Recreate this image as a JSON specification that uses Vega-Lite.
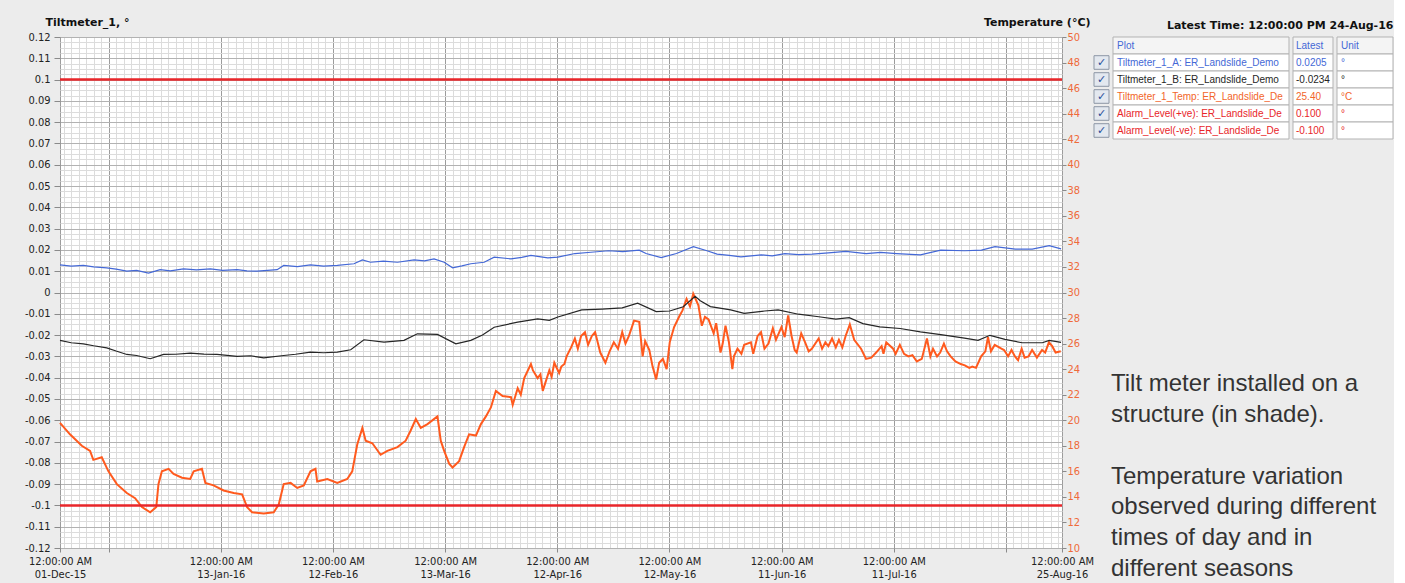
{
  "$schema": "https://vega.github.io/schema/vega-lite/v6.json",
  "background": "#ececec",
  "padding": {"left": 23, "top": 15, "right": 0, "bottom": 0},
  "config": {
    "view": {"stroke": null},
    "font": "Liberation Sans",
    "axis": {"labelFont": "DejaVu Sans Condensed, Liberation Sans, sans-serif", "labelFontSize": 11, "labelColor": "#222222", "titleFont": "DejaVu Sans", "titleFontSize": 11, "titleFontWeight": "bold", "titleColor": "#111111"}
  },
  "datasets": {
    "alarm": [
      {"series": "Alarm_Level(+ve)", "t": "2015-12-01T00:00", "value": 0.1},
      {"series": "Alarm_Level(+ve)", "t": "2016-08-25T00:00", "value": 0.1},
      {"series": "Alarm_Level(-ve)", "t": "2015-12-01T00:00", "value": -0.1},
      {"series": "Alarm_Level(-ve)", "t": "2016-08-25T00:00", "value": -0.1}
    ],
    "temp": [
      {"t": "2015-12-01T00:00", "temp": 19.8}, {"t": "2015-12-03T16:00", "temp": 18.9}, {"t": "2015-12-06T20:00", "temp": 18.0}, {"t": "2015-12-09T01:00", "temp": 17.6}, {"t": "2015-12-09T22:00", "temp": 16.9}, {"t": "2015-12-12T04:00", "temp": 17.1}, {"t": "2015-12-13T23:00", "temp": 16.0}, {"t": "2015-12-16T05:00", "temp": 15.0}, {"t": "2015-12-18T21:00", "temp": 14.3}, {"t": "2015-12-21T02:00", "temp": 13.9}, {"t": "2015-12-22T22:00", "temp": 13.2}, {"t": "2015-12-25T03:00", "temp": 12.8}, {"t": "2015-12-26T18:00", "temp": 13.2}, {"t": "2015-12-27T08:00", "temp": 15.0}, {"t": "2015-12-28T06:00", "temp": 16.0}, {"t": "2015-12-30T01:00", "temp": 16.2}, {"t": "2015-12-31T09:00", "temp": 15.8},
      {"t": "2016-01-02T15:00", "temp": 15.5}, {"t": "2016-01-04T20:00", "temp": 15.4}, {"t": "2016-01-05T18:00", "temp": 16.0}, {"t": "2016-01-07T23:00", "temp": 16.2}, {"t": "2016-01-08T21:00", "temp": 15.1}, {"t": "2016-01-11T02:00", "temp": 14.9}, {"t": "2016-01-13T18:00", "temp": 14.5}, {"t": "2016-01-16T11:00", "temp": 14.3}, {"t": "2016-01-18T17:00", "temp": 14.2}, {"t": "2016-01-20T01:00", "temp": 13.2}, {"t": "2016-01-21T09:00", "temp": 12.8}, {"t": "2016-01-24T12:00", "temp": 12.7}, {"t": "2016-01-27T04:00", "temp": 12.8}, {"t": "2016-01-28T12:00", "temp": 13.4}, {"t": "2016-01-29T20:00", "temp": 15.0}, {"t": "2016-01-31T16:00", "temp": 15.1},
      {"t": "2016-02-02T11:00", "temp": 14.7}, {"t": "2016-02-04T05:00", "temp": 14.9}, {"t": "2016-02-06T00:00", "temp": 16.0}, {"t": "2016-02-07T08:00", "temp": 16.2}, {"t": "2016-02-07T19:00", "temp": 15.2}, {"t": "2016-02-10T12:00", "temp": 15.4}, {"t": "2016-02-13T04:00", "temp": 15.1}, {"t": "2016-02-15T20:00", "temp": 15.4}, {"t": "2016-02-17T04:00", "temp": 16.0}, {"t": "2016-02-18T12:00", "temp": 18.1}, {"t": "2016-02-19T21:00", "temp": 19.4}, {"t": "2016-02-20T18:00", "temp": 18.4}, {"t": "2016-02-22T13:00", "temp": 18.2}, {"t": "2016-02-24T18:00", "temp": 17.3}, {"t": "2016-02-26T13:00", "temp": 17.6}, {"t": "2016-02-29T06:00", "temp": 17.9},
      {"t": "2016-03-02T11:00", "temp": 18.4}, {"t": "2016-03-03T19:00", "temp": 19.2}, {"t": "2016-03-05T04:00", "temp": 20.1}, {"t": "2016-03-06T12:00", "temp": 19.4}, {"t": "2016-03-08T07:00", "temp": 19.7}, {"t": "2016-03-10T23:00", "temp": 20.3}, {"t": "2016-03-11T20:00", "temp": 18.4}, {"t": "2016-03-12T18:00", "temp": 17.6}, {"t": "2016-03-14T02:00", "temp": 16.6}, {"t": "2016-03-15T00:00", "temp": 16.3}, {"t": "2016-03-16T18:00", "temp": 16.8}, {"t": "2016-03-18T02:00", "temp": 17.9}, {"t": "2016-03-19T10:00", "temp": 18.9}, {"t": "2016-03-21T06:00", "temp": 18.8}, {"t": "2016-03-22T14:00", "temp": 19.7}, {"t": "2016-03-23T22:00", "temp": 20.3}, {"t": "2016-03-25T06:00", "temp": 21.0}, {"t": "2016-03-26T14:00", "temp": 22.3}, {"t": "2016-03-28T09:00", "temp": 21.9}, {"t": "2016-03-30T15:00", "temp": 21.8}, {"t": "2016-03-31T02:00", "temp": 21.2},
      {"t": "2016-04-01T10:00", "temp": 22.5}, {"t": "2016-04-02T06:00", "temp": 22.0}, {"t": "2016-04-03T04:00", "temp": 23.3}, {"t": "2016-04-04T23:00", "temp": 24.4}, {"t": "2016-04-05T12:00", "temp": 23.9}, {"t": "2016-04-06T18:00", "temp": 23.3}, {"t": "2016-04-07T12:00", "temp": 23.6}, {"t": "2016-04-08T03:00", "temp": 22.3}, {"t": "2016-04-09T21:00", "temp": 23.9}, {"t": "2016-04-10T12:00", "temp": 23.4}, {"t": "2016-04-11T05:00", "temp": 24.5}, {"t": "2016-04-12T12:00", "temp": 23.7}, {"t": "2016-04-13T02:00", "temp": 24.2}, {"t": "2016-04-13T22:00", "temp": 24.4}, {"t": "2016-04-14T12:00", "temp": 25.0}, {"t": "2016-04-15T17:00", "temp": 25.7}, {"t": "2016-04-16T17:00", "temp": 26.4}, {"t": "2016-04-17T12:00", "temp": 25.6}, {"t": "2016-04-18T09:00", "temp": 26.6}, {"t": "2016-04-19T10:00", "temp": 26.9}, {"t": "2016-04-20T06:00", "temp": 25.9}, {"t": "2016-04-21T06:00", "temp": 26.6}, {"t": "2016-04-22T03:00", "temp": 26.9}, {"t": "2016-04-23T12:00", "temp": 25.3}, {"t": "2016-04-24T21:00", "temp": 24.5}, {"t": "2016-04-26T00:00", "temp": 25.4}, {"t": "2016-04-27T03:00", "temp": 26.1}, {"t": "2016-04-28T06:00", "temp": 25.6}, {"t": "2016-04-29T09:00", "temp": 26.9}, {"t": "2016-04-30T06:00", "temp": 26.0},
      {"t": "2016-05-01T04:00", "temp": 26.6}, {"t": "2016-05-02T13:00", "temp": 27.8}, {"t": "2016-05-03T22:00", "temp": 27.7}, {"t": "2016-05-04T20:00", "temp": 25.0}, {"t": "2016-05-05T12:00", "temp": 26.2}, {"t": "2016-05-06T15:00", "temp": 25.5}, {"t": "2016-05-07T12:00", "temp": 24.2}, {"t": "2016-05-08T11:00", "temp": 23.2}, {"t": "2016-05-09T06:00", "temp": 24.5}, {"t": "2016-05-10T06:00", "temp": 24.8}, {"t": "2016-05-11T06:00", "temp": 24.0}, {"t": "2016-05-12T02:00", "temp": 26.1}, {"t": "2016-05-13T06:00", "temp": 27.3}, {"t": "2016-05-14T18:00", "temp": 28.2}, {"t": "2016-05-15T12:00", "temp": 28.6}, {"t": "2016-05-16T14:00", "temp": 29.5}, {"t": "2016-05-17T12:00", "temp": 28.9}, {"t": "2016-05-18T09:00", "temp": 29.9}, {"t": "2016-05-19T18:00", "temp": 29.0}, {"t": "2016-05-20T16:00", "temp": 27.4}, {"t": "2016-05-21T12:00", "temp": 28.1}, {"t": "2016-05-22T11:00", "temp": 27.9}, {"t": "2016-05-23T20:00", "temp": 26.8}, {"t": "2016-05-24T12:00", "temp": 27.6}, {"t": "2016-05-25T16:00", "temp": 25.3}, {"t": "2016-05-26T06:00", "temp": 26.0}, {"t": "2016-05-27T00:00", "temp": 27.4}, {"t": "2016-05-27T22:00", "temp": 26.1}, {"t": "2016-05-28T20:00", "temp": 24.0}, {"t": "2016-05-29T06:00", "temp": 25.0}, {"t": "2016-05-30T05:00", "temp": 25.6}, {"t": "2016-05-31T06:00", "temp": 25.2},
      {"t": "2016-06-01T00:00", "temp": 25.9}, {"t": "2016-06-02T19:00", "temp": 26.1}, {"t": "2016-06-03T10:00", "temp": 25.2}, {"t": "2016-06-04T14:00", "temp": 26.6}, {"t": "2016-06-05T12:00", "temp": 26.9}, {"t": "2016-06-06T10:00", "temp": 25.6}, {"t": "2016-06-07T12:00", "temp": 26.0}, {"t": "2016-06-08T16:00", "temp": 27.2}, {"t": "2016-06-09T12:00", "temp": 26.3}, {"t": "2016-06-10T23:00", "temp": 27.3}, {"t": "2016-06-11T20:00", "temp": 26.5}, {"t": "2016-06-12T18:00", "temp": 28.2}, {"t": "2016-06-13T16:00", "temp": 26.6}, {"t": "2016-06-14T12:00", "temp": 25.5}, {"t": "2016-06-15T01:00", "temp": 25.3}, {"t": "2016-06-16T06:00", "temp": 26.8}, {"t": "2016-06-17T07:00", "temp": 26.1}, {"t": "2016-06-18T06:00", "temp": 25.4}, {"t": "2016-06-19T02:00", "temp": 25.6}, {"t": "2016-06-20T22:00", "temp": 26.4}, {"t": "2016-06-21T20:00", "temp": 25.6}, {"t": "2016-06-22T17:00", "temp": 26.1}, {"t": "2016-06-23T12:00", "temp": 25.8}, {"t": "2016-06-24T12:00", "temp": 26.4}, {"t": "2016-06-25T12:00", "temp": 25.7}, {"t": "2016-06-26T08:00", "temp": 26.3}, {"t": "2016-06-27T06:00", "temp": 25.7}, {"t": "2016-06-28T03:00", "temp": 26.6}, {"t": "2016-06-29T06:00", "temp": 27.5}, {"t": "2016-06-30T10:00", "temp": 26.3},
      {"t": "2016-07-02T06:00", "temp": 25.6}, {"t": "2016-07-03T14:00", "temp": 24.8}, {"t": "2016-07-05T00:00", "temp": 24.9}, {"t": "2016-07-06T07:00", "temp": 25.3}, {"t": "2016-07-07T18:00", "temp": 25.8}, {"t": "2016-07-08T06:00", "temp": 25.2}, {"t": "2016-07-09T00:00", "temp": 26.1}, {"t": "2016-07-10T20:00", "temp": 25.6}, {"t": "2016-07-11T12:00", "temp": 25.2}, {"t": "2016-07-12T15:00", "temp": 25.9}, {"t": "2016-07-13T18:00", "temp": 25.2}, {"t": "2016-07-14T22:00", "temp": 25.0}, {"t": "2016-07-16T00:00", "temp": 25.1}, {"t": "2016-07-17T04:00", "temp": 24.6}, {"t": "2016-07-18T12:00", "temp": 24.8}, {"t": "2016-07-19T21:00", "temp": 26.4}, {"t": "2016-07-20T19:00", "temp": 25.0}, {"t": "2016-07-21T12:00", "temp": 25.6}, {"t": "2016-07-22T14:00", "temp": 25.0}, {"t": "2016-07-23T10:00", "temp": 25.3}, {"t": "2016-07-24T10:00", "temp": 26.0}, {"t": "2016-07-25T06:00", "temp": 25.4}, {"t": "2016-07-26T05:00", "temp": 25.0}, {"t": "2016-07-27T12:00", "temp": 24.6}, {"t": "2016-07-28T22:00", "temp": 24.4}, {"t": "2016-07-30T00:00", "temp": 24.3}, {"t": "2016-07-31T05:00", "temp": 24.1},
      {"t": "2016-08-01T00:00", "temp": 24.2}, {"t": "2016-08-02T00:00", "temp": 24.1}, {"t": "2016-08-03T09:00", "temp": 25.0}, {"t": "2016-08-04T12:00", "temp": 25.4}, {"t": "2016-08-05T05:00", "temp": 26.5}, {"t": "2016-08-06T00:00", "temp": 25.4}, {"t": "2016-08-07T00:00", "temp": 25.9}, {"t": "2016-08-08T19:00", "temp": 25.6}, {"t": "2016-08-09T12:00", "temp": 25.5}, {"t": "2016-08-10T14:00", "temp": 25.0}, {"t": "2016-08-11T12:00", "temp": 25.5}, {"t": "2016-08-12T10:00", "temp": 25.0}, {"t": "2016-08-13T06:00", "temp": 24.7}, {"t": "2016-08-14T05:00", "temp": 25.6}, {"t": "2016-08-15T00:00", "temp": 24.9}, {"t": "2016-08-16T01:00", "temp": 25.0}, {"t": "2016-08-17T00:00", "temp": 25.5}, {"t": "2016-08-18T07:00", "temp": 24.9}, {"t": "2016-08-19T16:00", "temp": 25.5}, {"t": "2016-08-20T12:00", "temp": 25.3}, {"t": "2016-08-21T12:00", "temp": 26.1}, {"t": "2016-08-22T09:00", "temp": 25.8}, {"t": "2016-08-23T07:00", "temp": 25.3}, {"t": "2016-08-24T16:00", "temp": 25.4}
    ],
    "tilt": [
      {"series": "Tiltmeter_1_A", "t": "2015-12-01T00:00", "value": 0.0130}, {"series": "Tiltmeter_1_A", "t": "2015-12-04T00:00", "value": 0.0124}, {"series": "Tiltmeter_1_A", "t": "2015-12-07T06:00", "value": 0.0127}, {"series": "Tiltmeter_1_A", "t": "2015-12-10T00:00", "value": 0.0120}, {"series": "Tiltmeter_1_A", "t": "2015-12-13T12:00", "value": 0.0116}, {"series": "Tiltmeter_1_A", "t": "2015-12-16T00:00", "value": 0.0110}, {"series": "Tiltmeter_1_A", "t": "2015-12-18T21:00", "value": 0.0100}, {"series": "Tiltmeter_1_A", "t": "2015-12-21T12:00", "value": 0.0104}, {"series": "Tiltmeter_1_A", "t": "2015-12-24T16:00", "value": 0.0091}, {"series": "Tiltmeter_1_A", "t": "2015-12-27T19:00", "value": 0.0107}, {"series": "Tiltmeter_1_A", "t": "2015-12-30T12:00", "value": 0.0102},
      {"series": "Tiltmeter_1_A", "t": "2016-01-03T01:00", "value": 0.0111}, {"series": "Tiltmeter_1_A", "t": "2016-01-06T12:00", "value": 0.0106}, {"series": "Tiltmeter_1_A", "t": "2016-01-10T05:00", "value": 0.0111}, {"series": "Tiltmeter_1_A", "t": "2016-01-13T12:00", "value": 0.0104}, {"series": "Tiltmeter_1_A", "t": "2016-01-17T09:00", "value": 0.0107}, {"series": "Tiltmeter_1_A", "t": "2016-01-20T00:00", "value": 0.0102}, {"series": "Tiltmeter_1_A", "t": "2016-01-22T17:00", "value": 0.0100}, {"series": "Tiltmeter_1_A", "t": "2016-01-25T12:00", "value": 0.0104}, {"series": "Tiltmeter_1_A", "t": "2016-01-28T02:00", "value": 0.0107}, {"series": "Tiltmeter_1_A", "t": "2016-01-29T20:00", "value": 0.0127},
      {"series": "Tiltmeter_1_A", "t": "2016-02-02T12:00", "value": 0.0122}, {"series": "Tiltmeter_1_A", "t": "2016-02-06T00:00", "value": 0.0130}, {"series": "Tiltmeter_1_A", "t": "2016-02-09T12:00", "value": 0.0124}, {"series": "Tiltmeter_1_A", "t": "2016-02-13T04:00", "value": 0.0127}, {"series": "Tiltmeter_1_A", "t": "2016-02-17T15:00", "value": 0.0135}, {"series": "Tiltmeter_1_A", "t": "2016-02-19T21:00", "value": 0.0153}, {"series": "Tiltmeter_1_A", "t": "2016-02-22T02:00", "value": 0.0142}, {"series": "Tiltmeter_1_A", "t": "2016-02-25T12:00", "value": 0.0147}, {"series": "Tiltmeter_1_A", "t": "2016-02-29T06:00", "value": 0.0142},
      {"series": "Tiltmeter_1_A", "t": "2016-03-04T17:00", "value": 0.0153}, {"series": "Tiltmeter_1_A", "t": "2016-03-07T12:00", "value": 0.0149}, {"series": "Tiltmeter_1_A", "t": "2016-03-10T01:00", "value": 0.0158}, {"series": "Tiltmeter_1_A", "t": "2016-03-12T18:00", "value": 0.0142}, {"series": "Tiltmeter_1_A", "t": "2016-03-15T00:00", "value": 0.0116}, {"series": "Tiltmeter_1_A", "t": "2016-03-17T12:00", "value": 0.0125}, {"series": "Tiltmeter_1_A", "t": "2016-03-19T21:00", "value": 0.0135}, {"series": "Tiltmeter_1_A", "t": "2016-03-23T11:00", "value": 0.0142}, {"series": "Tiltmeter_1_A", "t": "2016-03-26T03:00", "value": 0.0166}, {"series": "Tiltmeter_1_A", "t": "2016-03-30T15:00", "value": 0.0158},
      {"series": "Tiltmeter_1_A", "t": "2016-04-02T12:00", "value": 0.0165}, {"series": "Tiltmeter_1_A", "t": "2016-04-04T23:00", "value": 0.0174}, {"series": "Tiltmeter_1_A", "t": "2016-04-09T11:00", "value": 0.0163}, {"series": "Tiltmeter_1_A", "t": "2016-04-12T04:00", "value": 0.0166}, {"series": "Tiltmeter_1_A", "t": "2016-04-16T17:00", "value": 0.0183}, {"series": "Tiltmeter_1_A", "t": "2016-04-21T00:00", "value": 0.0189}, {"series": "Tiltmeter_1_A", "t": "2016-04-25T18:00", "value": 0.0196}, {"series": "Tiltmeter_1_A", "t": "2016-04-29T12:00", "value": 0.0192},
      {"series": "Tiltmeter_1_A", "t": "2016-05-03T22:00", "value": 0.0199}, {"series": "Tiltmeter_1_A", "t": "2016-05-05T18:00", "value": 0.0183}, {"series": "Tiltmeter_1_A", "t": "2016-05-09T19:00", "value": 0.0164}, {"series": "Tiltmeter_1_A", "t": "2016-05-13T21:00", "value": 0.0183}, {"series": "Tiltmeter_1_A", "t": "2016-05-18T10:00", "value": 0.0215}, {"series": "Tiltmeter_1_A", "t": "2016-05-22T01:00", "value": 0.0196}, {"series": "Tiltmeter_1_A", "t": "2016-05-24T18:00", "value": 0.0180}, {"series": "Tiltmeter_1_A", "t": "2016-05-28T00:00", "value": 0.0174}, {"series": "Tiltmeter_1_A", "t": "2016-05-31T03:00", "value": 0.0167},
      {"series": "Tiltmeter_1_A", "t": "2016-06-05T13:00", "value": 0.0177}, {"series": "Tiltmeter_1_A", "t": "2016-06-08T12:00", "value": 0.0172}, {"series": "Tiltmeter_1_A", "t": "2016-06-11T21:00", "value": 0.0183}, {"series": "Tiltmeter_1_A", "t": "2016-06-15T12:00", "value": 0.0178}, {"series": "Tiltmeter_1_A", "t": "2016-06-19T04:00", "value": 0.0180}, {"series": "Tiltmeter_1_A", "t": "2016-06-23T12:00", "value": 0.0186}, {"series": "Tiltmeter_1_A", "t": "2016-06-28T05:00", "value": 0.0193},
      {"series": "Tiltmeter_1_A", "t": "2016-07-03T15:00", "value": 0.0183}, {"series": "Tiltmeter_1_A", "t": "2016-07-07T12:00", "value": 0.0188}, {"series": "Tiltmeter_1_A", "t": "2016-07-11T19:00", "value": 0.0183}, {"series": "Tiltmeter_1_A", "t": "2016-07-18T03:00", "value": 0.0177}, {"series": "Tiltmeter_1_A", "t": "2016-07-23T14:00", "value": 0.0199}, {"series": "Tiltmeter_1_A", "t": "2016-07-29T22:00", "value": 0.0196},
      {"series": "Tiltmeter_1_A", "t": "2016-08-03T11:00", "value": 0.0199}, {"series": "Tiltmeter_1_A", "t": "2016-08-07T02:00", "value": 0.0215}, {"series": "Tiltmeter_1_A", "t": "2016-08-12T12:00", "value": 0.0204}, {"series": "Tiltmeter_1_A", "t": "2016-08-17T01:00", "value": 0.0204}, {"series": "Tiltmeter_1_A", "t": "2016-08-21T14:00", "value": 0.0220}, {"series": "Tiltmeter_1_A", "t": "2016-08-24T18:00", "value": 0.0205},
      {"series": "Tiltmeter_1_B", "t": "2015-12-01T00:00", "value": -0.0225}, {"series": "Tiltmeter_1_B", "t": "2015-12-04T00:00", "value": -0.0236}, {"series": "Tiltmeter_1_B", "t": "2015-12-07T06:00", "value": -0.0241}, {"series": "Tiltmeter_1_B", "t": "2015-12-10T00:00", "value": -0.0250}, {"series": "Tiltmeter_1_B", "t": "2015-12-13T12:00", "value": -0.0260}, {"series": "Tiltmeter_1_B", "t": "2015-12-16T00:00", "value": -0.0275}, {"series": "Tiltmeter_1_B", "t": "2015-12-18T21:00", "value": -0.0291}, {"series": "Tiltmeter_1_B", "t": "2015-12-21T12:00", "value": -0.0296}, {"series": "Tiltmeter_1_B", "t": "2015-12-25T03:00", "value": -0.0311}, {"series": "Tiltmeter_1_B", "t": "2015-12-28T17:00", "value": -0.0291},
      {"series": "Tiltmeter_1_B", "t": "2016-01-01T00:00", "value": -0.0290}, {"series": "Tiltmeter_1_B", "t": "2016-01-04T20:00", "value": -0.0285}, {"series": "Tiltmeter_1_B", "t": "2016-01-08T12:00", "value": -0.0289}, {"series": "Tiltmeter_1_B", "t": "2016-01-12T00:00", "value": -0.0291}, {"series": "Tiltmeter_1_B", "t": "2016-01-17T09:00", "value": -0.0300}, {"series": "Tiltmeter_1_B", "t": "2016-01-21T00:00", "value": -0.0297}, {"series": "Tiltmeter_1_B", "t": "2016-01-24T12:00", "value": -0.0307}, {"series": "Tiltmeter_1_B", "t": "2016-01-29T20:00", "value": -0.0296},
      {"series": "Tiltmeter_1_B", "t": "2016-02-02T00:00", "value": -0.0290}, {"series": "Tiltmeter_1_B", "t": "2016-02-06T00:00", "value": -0.0280}, {"series": "Tiltmeter_1_B", "t": "2016-02-09T12:00", "value": -0.0283}, {"series": "Tiltmeter_1_B", "t": "2016-02-13T04:00", "value": -0.0280}, {"series": "Tiltmeter_1_B", "t": "2016-02-16T18:00", "value": -0.0269}, {"series": "Tiltmeter_1_B", "t": "2016-02-20T07:00", "value": -0.0222}, {"series": "Tiltmeter_1_B", "t": "2016-02-25T16:00", "value": -0.0233},
      {"series": "Tiltmeter_1_B", "t": "2016-03-02T00:00", "value": -0.0225}, {"series": "Tiltmeter_1_B", "t": "2016-03-05T14:00", "value": -0.0194}, {"series": "Tiltmeter_1_B", "t": "2016-03-10T23:00", "value": -0.0197}, {"series": "Tiltmeter_1_B", "t": "2016-03-15T21:00", "value": -0.0241}, {"series": "Tiltmeter_1_B", "t": "2016-03-19T21:00", "value": -0.0225}, {"series": "Tiltmeter_1_B", "t": "2016-03-23T00:00", "value": -0.0200}, {"series": "Tiltmeter_1_B", "t": "2016-03-26T03:00", "value": -0.0163},
      {"series": "Tiltmeter_1_B", "t": "2016-04-01T10:00", "value": -0.0139}, {"series": "Tiltmeter_1_B", "t": "2016-04-06T18:00", "value": -0.0124}, {"series": "Tiltmeter_1_B", "t": "2016-04-09T21:00", "value": -0.0131}, {"series": "Tiltmeter_1_B", "t": "2016-04-12T04:00", "value": -0.0115}, {"series": "Tiltmeter_1_B", "t": "2016-04-18T13:00", "value": -0.0082}, {"series": "Tiltmeter_1_B", "t": "2016-04-23T23:00", "value": -0.0078}, {"series": "Tiltmeter_1_B", "t": "2016-04-29T09:00", "value": -0.0072},
      {"series": "Tiltmeter_1_B", "t": "2016-05-03T12:00", "value": -0.0050}, {"series": "Tiltmeter_1_B", "t": "2016-05-08T11:00", "value": -0.0090}, {"series": "Tiltmeter_1_B", "t": "2016-05-12T02:00", "value": -0.0087}, {"series": "Tiltmeter_1_B", "t": "2016-05-15T17:00", "value": -0.0067}, {"series": "Tiltmeter_1_B", "t": "2016-05-18T21:00", "value": -0.0018}, {"series": "Tiltmeter_1_B", "t": "2016-05-20T06:00", "value": -0.0039}, {"series": "Tiltmeter_1_B", "t": "2016-05-22T23:00", "value": -0.0066}, {"series": "Tiltmeter_1_B", "t": "2016-05-28T09:00", "value": -0.0082},
      {"series": "Tiltmeter_1_B", "t": "2016-06-01T00:00", "value": -0.0098}, {"series": "Tiltmeter_1_B", "t": "2016-06-06T11:00", "value": -0.0087}, {"series": "Tiltmeter_1_B", "t": "2016-06-10T02:00", "value": -0.0082}, {"series": "Tiltmeter_1_B", "t": "2016-06-15T12:00", "value": -0.0102}, {"series": "Tiltmeter_1_B", "t": "2016-06-20T23:00", "value": -0.0114}, {"series": "Tiltmeter_1_B", "t": "2016-06-25T12:00", "value": -0.0125}, {"series": "Tiltmeter_1_B", "t": "2016-06-29T02:00", "value": -0.0118},
      {"series": "Tiltmeter_1_B", "t": "2016-07-02T18:00", "value": -0.0146}, {"series": "Tiltmeter_1_B", "t": "2016-07-07T06:00", "value": -0.0161}, {"series": "Tiltmeter_1_B", "t": "2016-07-12T17:00", "value": -0.0169}, {"series": "Tiltmeter_1_B", "t": "2016-07-18T03:00", "value": -0.0185}, {"series": "Tiltmeter_1_B", "t": "2016-07-23T14:00", "value": -0.0198}, {"series": "Tiltmeter_1_B", "t": "2016-07-29T22:00", "value": -0.0214},
      {"series": "Tiltmeter_1_B", "t": "2016-08-02T13:00", "value": -0.0225}, {"series": "Tiltmeter_1_B", "t": "2016-08-05T18:00", "value": -0.0201}, {"series": "Tiltmeter_1_B", "t": "2016-08-09T18:00", "value": -0.0220}, {"series": "Tiltmeter_1_B", "t": "2016-08-14T08:00", "value": -0.0236}, {"series": "Tiltmeter_1_B", "t": "2016-08-19T18:00", "value": -0.0236}, {"series": "Tiltmeter_1_B", "t": "2016-08-21T14:00", "value": -0.0225}, {"series": "Tiltmeter_1_B", "t": "2016-08-24T18:00", "value": -0.0234}
    ],
    "table": [
      {"series": "header", "plot": "Plot", "latest": "Latest", "unit": "Unit"},
      {"series": "Tiltmeter_1_A", "plot": "Tiltmeter_1_A: ER_Landslide_Demo", "latest": "0.0205", "unit": "°"},
      {"series": "Tiltmeter_1_B", "plot": "Tiltmeter_1_B: ER_Landslide_Demo", "latest": "-0.0234", "unit": "°"},
      {"series": "Tiltmeter_1_Temp", "plot": "Tiltmeter_1_Temp: ER_Landslide_De", "latest": "25.40", "unit": "°C"},
      {"series": "Alarm_Level(+ve)", "plot": "Alarm_Level(+ve): ER_Landslide_De", "latest": "0.100", "unit": "°"},
      {"series": "Alarm_Level(-ve)", "plot": "Alarm_Level(-ve): ER_Landslide_De", "latest": "-0.100", "unit": "°"}
    ],
    "notes": [
      {"line": 1, "text": "Tilt meter installed on a"},
      {"line": 2, "text": "structure (in shade)."},
      {"line": 4, "text": "Temperature variation"},
      {"line": 5, "text": "observed during different"},
      {"line": 6, "text": "times of day and in"},
      {"line": 7, "text": "different seasons"}
    ]
  },
  "spacing": -4,
  "hconcat": [
    {
      "width": 1002,
      "height": 511,
      "view": {"fill": "white", "stroke": "#9a9a9a"},
      "layer": [
        {
          "data": {"name": "alarm"},
          "mark": {"type": "point", "opacity": 0},
          "encoding": {
            "x": {"field": "t", "type": "temporal",
              "scale": {"domain": [{"year": 2015, "month": 12, "date": 1}, {"year": 2015, "month": 12, "date": 269}], "nice": false},
              "axis": {"orient": "bottom", "grid": true, "gridColor": "#dcdcdc", "gridWidth": 1, "labels": false, "ticks": false, "domain": false, "title": null,
                "values": [{"year":2015,"month":12,"date":2},{"year":2015,"month":12,"date":4},{"year":2015,"month":12,"date":6},{"year":2015,"month":12,"date":8},{"year":2015,"month":12,"date":10},{"year":2015,"month":12,"date":12},{"year":2015,"month":12,"date":16},{"year":2015,"month":12,"date":18},{"year":2015,"month":12,"date":20},{"year":2015,"month":12,"date":22},{"year":2015,"month":12,"date":24},{"year":2015,"month":12,"date":26},{"year":2015,"month":12,"date":28},{"year":2015,"month":12,"date":30},{"year":2015,"month":12,"date":32},{"year":2015,"month":12,"date":34},{"year":2015,"month":12,"date":36},{"year":2015,"month":12,"date":38},{"year":2015,"month":12,"date":40},{"year":2015,"month":12,"date":42},{"year":2015,"month":12,"date":46},{"year":2015,"month":12,"date":48},{"year":2015,"month":12,"date":50},{"year":2015,"month":12,"date":52},{"year":2015,"month":12,"date":54},{"year":2015,"month":12,"date":56},{"year":2015,"month":12,"date":58},{"year":2015,"month":12,"date":60},{"year":2015,"month":12,"date":62},{"year":2015,"month":12,"date":64},{"year":2015,"month":12,"date":66},{"year":2015,"month":12,"date":68},{"year":2015,"month":12,"date":70},{"year":2015,"month":12,"date":72},{"year":2015,"month":12,"date":76},{"year":2015,"month":12,"date":78},{"year":2015,"month":12,"date":80},{"year":2015,"month":12,"date":82},{"year":2015,"month":12,"date":84},{"year":2015,"month":12,"date":86},{"year":2015,"month":12,"date":88},{"year":2015,"month":12,"date":90},{"year":2015,"month":12,"date":92},{"year":2015,"month":12,"date":94},{"year":2015,"month":12,"date":96},{"year":2015,"month":12,"date":98},{"year":2015,"month":12,"date":100},{"year":2015,"month":12,"date":102},{"year":2015,"month":12,"date":106},{"year":2015,"month":12,"date":108},{"year":2015,"month":12,"date":110},{"year":2015,"month":12,"date":112},{"year":2015,"month":12,"date":114},{"year":2015,"month":12,"date":116},{"year":2015,"month":12,"date":118},{"year":2015,"month":12,"date":120},{"year":2015,"month":12,"date":122},{"year":2015,"month":12,"date":124},{"year":2015,"month":12,"date":126},{"year":2015,"month":12,"date":128},{"year":2015,"month":12,"date":130},{"year":2015,"month":12,"date":132},{"year":2015,"month":12,"date":136},{"year":2015,"month":12,"date":138},{"year":2015,"month":12,"date":140},{"year":2015,"month":12,"date":142},{"year":2015,"month":12,"date":144},{"year":2015,"month":12,"date":146},{"year":2015,"month":12,"date":148},{"year":2015,"month":12,"date":150},{"year":2015,"month":12,"date":152},{"year":2015,"month":12,"date":154},{"year":2015,"month":12,"date":156},{"year":2015,"month":12,"date":158},{"year":2015,"month":12,"date":160},{"year":2015,"month":12,"date":162},{"year":2015,"month":12,"date":166},{"year":2015,"month":12,"date":168},{"year":2015,"month":12,"date":170},{"year":2015,"month":12,"date":172},{"year":2015,"month":12,"date":174},{"year":2015,"month":12,"date":176},{"year":2015,"month":12,"date":178},{"year":2015,"month":12,"date":180},{"year":2015,"month":12,"date":182},{"year":2015,"month":12,"date":184},{"year":2015,"month":12,"date":186},{"year":2015,"month":12,"date":188},{"year":2015,"month":12,"date":190},{"year":2015,"month":12,"date":192},{"year":2015,"month":12,"date":196},{"year":2015,"month":12,"date":198},{"year":2015,"month":12,"date":200},{"year":2015,"month":12,"date":202},{"year":2015,"month":12,"date":204},{"year":2015,"month":12,"date":206},{"year":2015,"month":12,"date":208},{"year":2015,"month":12,"date":210},{"year":2015,"month":12,"date":212},{"year":2015,"month":12,"date":214},{"year":2015,"month":12,"date":216},{"year":2015,"month":12,"date":218},{"year":2015,"month":12,"date":220},{"year":2015,"month":12,"date":222},{"year":2015,"month":12,"date":226},{"year":2015,"month":12,"date":228},{"year":2015,"month":12,"date":230},{"year":2015,"month":12,"date":232},{"year":2015,"month":12,"date":234},{"year":2015,"month":12,"date":236},{"year":2015,"month":12,"date":238},{"year":2015,"month":12,"date":240},{"year":2015,"month":12,"date":242},{"year":2015,"month":12,"date":244},{"year":2015,"month":12,"date":246},{"year":2015,"month":12,"date":248},{"year":2015,"month":12,"date":250},{"year":2015,"month":12,"date":252},{"year":2015,"month":12,"date":256},{"year":2015,"month":12,"date":258},{"year":2015,"month":12,"date":260},{"year":2015,"month":12,"date":262},{"year":2015,"month":12,"date":264},{"year":2015,"month":12,"date":266},{"year":2015,"month":12,"date":268}]}},
            "y": {"field": "value", "type": "quantitative",
              "scale": {"domain": [-0.12, 0.12], "nice": false, "zero": false},
              "axis": {"orient": "left", "grid": true, "gridColor": "#dcdcdc", "gridWidth": 1, "labels": false, "ticks": false, "domain": false, "title": null,
                "values": [-0.1175,-0.115,-0.1125,-0.1075,-0.105,-0.1025,-0.0975,-0.095,-0.0925,-0.0875,-0.085,-0.0825,-0.0775,-0.075,-0.0725,-0.0675,-0.065,-0.0625,-0.0575,-0.055,-0.0525,-0.0475,-0.045,-0.0425,-0.0375,-0.035,-0.0325,-0.0275,-0.025,-0.0225,-0.0175,-0.015,-0.0125,-0.0075,-0.005,-0.0025,0.0025,0.005,0.0075,0.0125,0.015,0.0175,0.0225,0.025,0.0275,0.0325,0.035,0.0375,0.0425,0.045,0.0475,0.0525,0.055,0.0575,0.0625,0.065,0.0675,0.0725,0.075,0.0775,0.0825,0.085,0.0875,0.0925,0.095,0.0975,0.1025,0.105,0.1075,0.1125,0.115,0.1175]}}
          }
        },
        {
          "data": {"name": "temp"},
          "mark": {"type": "line", "color": "#ff5a1e", "strokeWidth": 2},
          "encoding": {
            "x": {"field": "t", "type": "temporal", "scale": {"domain": [{"year": 2015, "month": 12, "date": 1}, {"year": 2015, "month": 12, "date": 269}], "nice": false}, "axis": null},
            "y": {"field": "temp", "type": "quantitative", "scale": {"domain": [10, 50], "nice": false, "zero": false},
              "axis": {"orient": "right", "values": [10,12,14,16,18,20,22,24,26,28,30,32,34,36,38,40,42,44,46,48,50], "grid": false, "labelColor": "#ef6a3a", "tickColor": "#8a8a8a", "tickSize": 4, "labelPadding": 1, "domain": false,
                "title": "Temperature (°C)", "titleAngle": 0, "titleAlign": "right", "titleBaseline": "bottom", "titleX": 28, "titleY": -10}}
          }
        },
        {
          "data": {"name": "alarm"},
          "mark": {"type": "line", "color": "#e8262a", "strokeWidth": 2.5},
          "encoding": {
            "x": {"field": "t", "type": "temporal", "scale": {"domain": [{"year": 2015, "month": 12, "date": 1}, {"year": 2015, "month": 12, "date": 269}], "nice": false}, "axis": null},
            "y": {"field": "value", "type": "quantitative", "scale": {"domain": [-0.12, 0.12], "nice": false, "zero": false}, "axis": null},
            "detail": {"field": "series", "type": "nominal"}
          }
        },
        {
          "data": {"name": "tilt"},
          "mark": {"type": "line", "strokeWidth": 1.2},
          "encoding": {
            "x": {"field": "t", "type": "temporal",
              "scale": {"domain": [{"year": 2015, "month": 12, "date": 1}, {"year": 2015, "month": 12, "date": 269}], "nice": false},
              "axis": {"orient": "bottom", "grid": true, "gridColor": "#9c9c9c", "gridWidth": 1, "tickColor": "#8a8a8a", "tickSize": 4, "labelPadding": 3, "labelBaseline": "top", "labelLineHeight": 13, "labelOverlap": false, "labelFlush": false, "labelBound": false, "domain": false, "title": null,
                "values": [{"year":2015,"month":12,"date":1},{"year":2015,"month":12,"date":14},{"year":2015,"month":12,"date":44},{"year":2015,"month":12,"date":74},{"year":2015,"month":12,"date":104},{"year":2015,"month":12,"date":134},{"year":2015,"month":12,"date":164},{"year":2015,"month":12,"date":194},{"year":2015,"month":12,"date":224},{"year":2015,"month":12,"date":254},{"year":2015,"month":12,"date":269}],
                "labelExpr": "indexof(['1214','0810'], timeFormat(datum.value, '%m%d')) >= 0 ? '' : ['12:00:00 AM', timeFormat(datum.value, '%d-%b-%y')]"}},
            "y": {"field": "value", "type": "quantitative",
              "scale": {"domain": [-0.12, 0.12], "nice": false, "zero": false},
              "axis": {"orient": "left", "grid": true, "gridColor": "#b2b2b2", "gridWidth": 1, "tickColor": "#8a8a8a", "tickSize": 6, "labelPadding": 4, "domain": false,
                "values": [-0.12,-0.11,-0.1,-0.09,-0.08,-0.07,-0.06,-0.05,-0.04,-0.03,-0.02,-0.01,0,0.01,0.02,0.03,0.04,0.05,0.06,0.07,0.08,0.09,0.1,0.11,0.12],
                "labelExpr": "replace(format(datum.value, '.2~f'), '\u2212', '-')",
                "title": "Tiltmeter_1, °", "titleAngle": 0, "titleAlign": "left", "titleBaseline": "bottom", "titleX": -15, "titleY": -10}},
            "color": {"field": "series", "type": "nominal",
              "scale": {"domain": ["Tiltmeter_1_A", "Tiltmeter_1_B", "Tiltmeter_1_Temp", "Alarm_Level(+ve)", "Alarm_Level(-ve)"], "range": ["#4468d6", "#262626", "#f2652a", "#e8262a", "#e8262a"]},
              "legend": null}
          }
        }
      ],
      "resolve": {"scale": {"y": "independent"}, "axis": {"x": "independent", "y": "independent"}}
    },
    {
      "spacing": 229,
      "vconcat": [
        {
          "title": {"text": "Latest Time: 12:00:00 PM 24-Aug-16", "anchor": "end", "font": "DejaVu Sans", "fontSize": 11, "fontWeight": "bold", "color": "#111111", "offset": 6},
          "spacing": 2,
          "hconcat": [
            {
              "data": {"name": "table"},
              "transform": [{"filter": "datum.series !== 'header'"}],
              "width": 15, "height": 102,
              "layer": [
                {"mark": {"type": "rect", "fill": "#e3e8ef", "stroke": "#8d97a5", "strokeWidth": 1},
                 "encoding": {"y": {"field": "series", "type": "nominal", "scale": {"domain": ["header", "Tiltmeter_1_A", "Tiltmeter_1_B", "Tiltmeter_1_Temp", "Alarm_Level(+ve)", "Alarm_Level(-ve)"], "paddingInner": 0.2, "paddingOuter": 0.1}, "axis": null}}},
                {"mark": {"type": "text", "text": "✓", "fontSize": 11, "fontWeight": "bold", "color": "#2a4f9a", "font": "DejaVu Sans"},
                 "encoding": {
                   "y": {"field": "series", "type": "nominal", "scale": {"domain": ["header", "Tiltmeter_1_A", "Tiltmeter_1_B", "Tiltmeter_1_Temp", "Alarm_Level(+ve)", "Alarm_Level(-ve)"], "paddingInner": 0.2, "paddingOuter": 0.1}, "axis": null},
                   "x": {"datum": 0.5, "type": "quantitative", "scale": {"domain": [0, 1]}, "axis": null}}}
              ]
            },
            {
              "data": {"name": "table"},
              "width": 176, "height": 102,
              "layer": [
                {"mark": {"type": "rect", "stroke": "#b3b3b3", "strokeWidth": 1},
                 "encoding": {"y": {"field": "series", "type": "nominal", "scale": {"domain": ["header", "Tiltmeter_1_A", "Tiltmeter_1_B", "Tiltmeter_1_Temp", "Alarm_Level(+ve)", "Alarm_Level(-ve)"], "paddingInner": 0, "paddingOuter": 0}, "axis": null},
                   "fill": {"condition": {"test": "datum.series === 'header'", "value": "#f4f4f4"}, "value": "white"}}},
                {"mark": {"type": "text", "align": "left", "dx": 4, "fontSize": 10, "font": "Liberation Sans"},
                 "encoding": {
                   "y": {"field": "series", "type": "nominal", "scale": {"domain": ["header", "Tiltmeter_1_A", "Tiltmeter_1_B", "Tiltmeter_1_Temp", "Alarm_Level(+ve)", "Alarm_Level(-ve)"], "paddingInner": 0, "paddingOuter": 0}, "axis": null},
                   "x": {"datum": 0, "type": "quantitative", "scale": {"domain": [0, 1]}, "axis": null},
                   "text": {"field": "plot"},
                   "color": {"field": "series", "type": "nominal", "scale": {"domain": ["header", "Tiltmeter_1_A", "Tiltmeter_1_B", "Tiltmeter_1_Temp", "Alarm_Level(+ve)", "Alarm_Level(-ve)"], "range": ["#222222", "#4468d6", "#262626", "#f2652a", "#e8262a", "#e8262a"]}, "legend": null}}}
              ]
            },
            {
              "data": {"name": "table"},
              "width": 40, "height": 102,
              "layer": [
                {"mark": {"type": "rect", "stroke": "#b3b3b3", "strokeWidth": 1},
                 "encoding": {"y": {"field": "series", "type": "nominal", "scale": {"domain": ["header", "Tiltmeter_1_A", "Tiltmeter_1_B", "Tiltmeter_1_Temp", "Alarm_Level(+ve)", "Alarm_Level(-ve)"], "paddingInner": 0, "paddingOuter": 0}, "axis": null},
                   "fill": {"condition": {"test": "datum.series === 'header'", "value": "#f4f4f4"}, "value": "white"}}},
                {"mark": {"type": "text", "align": "left", "dx": 3, "fontSize": 10, "font": "Liberation Sans"},
                 "encoding": {
                   "y": {"field": "series", "type": "nominal", "scale": {"domain": ["header", "Tiltmeter_1_A", "Tiltmeter_1_B", "Tiltmeter_1_Temp", "Alarm_Level(+ve)", "Alarm_Level(-ve)"], "paddingInner": 0, "paddingOuter": 0}, "axis": null},
                   "x": {"datum": 0, "type": "quantitative", "scale": {"domain": [0, 1]}, "axis": null},
                   "text": {"field": "latest"},
                   "color": {"field": "series", "type": "nominal", "scale": {"domain": ["header", "Tiltmeter_1_A", "Tiltmeter_1_B", "Tiltmeter_1_Temp", "Alarm_Level(+ve)", "Alarm_Level(-ve)"], "range": ["#222222", "#4468d6", "#262626", "#f2652a", "#e8262a", "#e8262a"]}, "legend": null}}}
              ]
            },
            {
              "data": {"name": "table"},
              "width": 56, "height": 102,
              "layer": [
                {"mark": {"type": "rect", "stroke": "#b3b3b3", "strokeWidth": 1},
                 "encoding": {"y": {"field": "series", "type": "nominal", "scale": {"domain": ["header", "Tiltmeter_1_A", "Tiltmeter_1_B", "Tiltmeter_1_Temp", "Alarm_Level(+ve)", "Alarm_Level(-ve)"], "paddingInner": 0, "paddingOuter": 0}, "axis": null},
                   "fill": {"condition": {"test": "datum.series === 'header'", "value": "#f4f4f4"}, "value": "white"}}},
                {"mark": {"type": "text", "align": "left", "dx": 4, "fontSize": 10, "font": "Liberation Sans"},
                 "encoding": {
                   "y": {"field": "series", "type": "nominal", "scale": {"domain": ["header", "Tiltmeter_1_A", "Tiltmeter_1_B", "Tiltmeter_1_Temp", "Alarm_Level(+ve)", "Alarm_Level(-ve)"], "paddingInner": 0, "paddingOuter": 0}, "axis": null},
                   "x": {"datum": 0, "type": "quantitative", "scale": {"domain": [0, 1]}, "axis": null},
                   "text": {"field": "unit"},
                   "color": {"field": "series", "type": "nominal", "scale": {"domain": ["header", "Tiltmeter_1_A", "Tiltmeter_1_B", "Tiltmeter_1_Temp", "Alarm_Level(+ve)", "Alarm_Level(-ve)"], "range": ["#222222", "#4468d6", "#262626", "#f2652a", "#e8262a", "#e8262a"]}, "legend": null}}}
              ]
            }
          ]
        },
        {
          "data": {"name": "notes"},
          "width": 291, "height": 215,
          "mark": {"type": "text", "align": "left", "baseline": "middle", "dx": 17, "font": "Liberation Sans", "fontSize": 24, "color": "#333333"},
          "encoding": {
            "y": {"field": "line", "type": "ordinal", "scale": {"type": "point", "domain": [1, 2, 3, 4, 5, 6, 7], "padding": 0.5}, "axis": null},
            "x": {"datum": 0, "type": "quantitative", "scale": {"domain": [0, 1]}, "axis": null},
            "text": {"field": "text"}
          }
        }
      ]
    }
  ]
}
